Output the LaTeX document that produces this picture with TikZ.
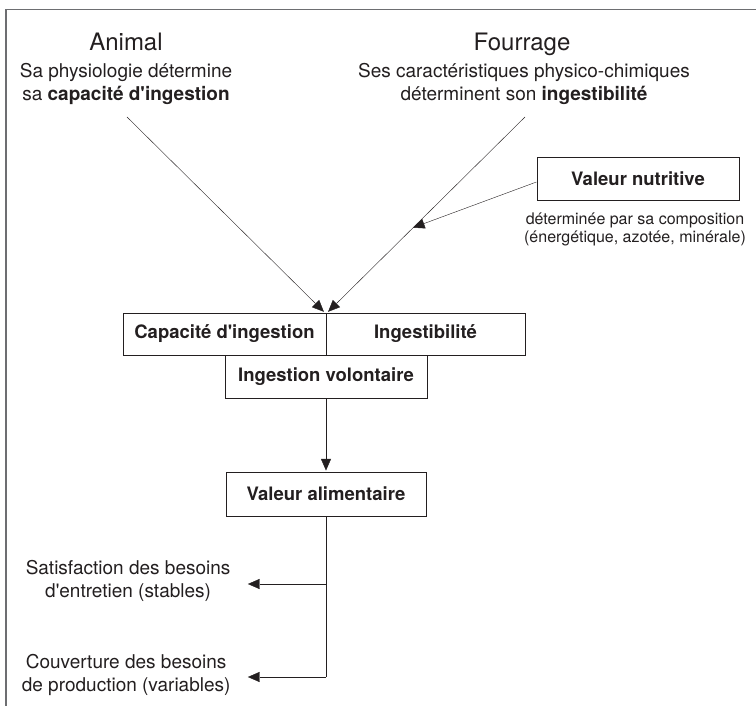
\documentclass[tikz,border=0pt]{standalone}
\usepackage{fontspec}
\setmainfont{TeX Gyre Heros}
\usetikzlibrary{arrows.meta}
\usepackage{xcolor}
\definecolor{ink}{HTML}{231F20}
\definecolor{framegray}{HTML}{6D6E71}

\begin{document}
\begin{tikzpicture}[x=1pt, y=-1pt]
		\tikzset{line width=1.1pt, >={Triangle[length=13pt, width=11pt]}, box/.style = {shape=rectangle, draw=ink, inner sep=0pt, minimum height=42pt, text=ink, font=\fontsize{18.5}{22}\selectfont\bfseries}}
		\tikzset{title/.style = {anchor=base, text=ink, font=\fontsize{24}{28}\selectfont}, note/.style = {align=center, inner sep=0pt, text=ink, font=\fontsize{19}{23}\selectfont}}
		\useasboundingbox (0,0) rectangle (756,706);
		\draw[framegray, line width=1.8pt] (6,706) -- (6,9.5) -- (756,9.5);
		\node[title] (animal) at (126,51) {Animal};
		\node[title] (fourrage) at (522,51) {Fourrage};
		\node[note] (physio) at (126,84) {Sa physiologie détermine\\sa \textbf{capacité d\textquotesingle ingestion}};
		\node[note] (carac) at (524,84) {Ses caractéristiques physico-chimiques\\déterminent son \textbf{ingestibilité}};
		\node[box, minimum width=202pt, minimum height=43pt] (nutri) at (638,178.5) {Valeur nutritive};
		\node[note, font=\fontsize{16}{18.3}\selectfont] (compo) at (635,229.5) {déterminée par sa composition\\(énergétique, azotée, minérale)};
		\node[box, minimum width=203pt] (cap) at (224.5,334) {Capacité d\textquotesingle ingestion};
		\node[box, minimum width=199pt] (ing) at (425.5,334) {Ingestibilité};
		\node[box, minimum width=202pt, minimum height=43pt] (vol) at (326,376.5) {Ingestion volontaire};
		\node[box, minimum width=200pt, minimum height=44pt] (alim) at (326,494) {Valeur alimentaire};
		\node[note, anchor=east] (entretien) at (231,580.5) {Satisfaction des besoins\\d\textquotesingle entretien (stables)};
		\node[note, anchor=east] (prod) at (231,675) {Couverture des besoins\\de production (variables)};
		\coordinate (a) at (127,117);
		\coordinate (b) at (525,117);
		\coordinate (f) at (412,228);
		\coordinate (c1) at (326,584);
		\coordinate (c2) at (326,677);
		%edges
		\draw[->, ink] (a) -- ([xshift=-2pt]cap.north east);
		\draw[->, ink] (b) -- ([xshift=2pt]ing.north west);
		\draw[->, ink] ([yshift=-3.5pt]nutri.west) -- (f);
		\draw[->, ink] (vol.south) -- (alim.north);
		\draw[ink] (alim.south) -- (c2);
		\draw[->, ink, shorten >=16pt] (c1) -- (c1 -| entretien.east);
		\draw[->, ink, shorten >=16pt] (c2) -- (c2 -| prod.east);
\end{tikzpicture}
\end{document}
